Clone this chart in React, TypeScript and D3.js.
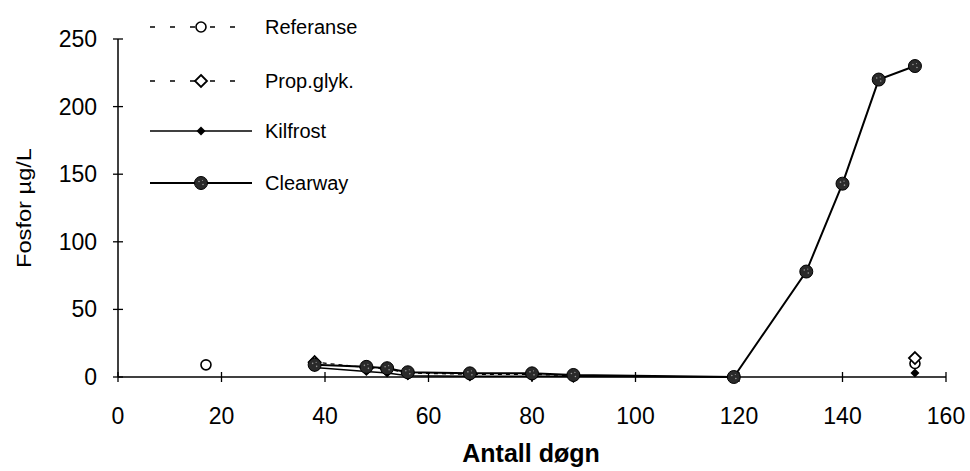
import React from "react";
import * as d3 from "d3";

const days = [17, 38, 48, 52, 56, 68, 80, 88, 119, 133, 140, 147, 154];
const referanse: (number | null)[] = [9, null, null, null, null, null, null, null, null, null, null, null, 10];
const propGlyk: (number | null)[] = [null, 11, 7, 6, 3, 2, 2, 1, null, null, null, null, 14];
const kilfrost: (number | null)[] = [null, 7, 4, 3, 1, 0.5, 0.5, 0.5, 0, null, null, null, 3];
const clearway: (number | null)[] = [null, 9, 7.5, 6.5, 3.5, 2.7, 2.7, 1.5, 0, 78, 143, 220, 230];

const xTicks = [0, 20, 40, 60, 80, 100, 120, 140, 160];
const yTicks = [0, 50, 100, 150, 200, 250];
const seriesNames = ["Referanse", "Prop.glyk.", "Kilfrost", "Clearway"];

const W = 970;
const H = 471;
const FONT = "'Liberation Sans', Arial, Helvetica, sans-serif";

type Marker = "openCircle" | "openDiamond" | "filledDiamond" | "filledCircle";

function MarkerShape({ kind, x, y }: { kind: Marker; x: number; y: number }) {
  if (kind === "openCircle")
    return <circle cx={x} cy={y} r={5} fill="#fff" stroke="#000" strokeWidth={1.6} />;
  if (kind === "openDiamond") {
    const s = 6;
    return (
      <path
        d={`M${x},${y - s}L${x + s},${y}L${x},${y + s}L${x - s},${y}Z`}
        fill="#fff"
        stroke="#000"
        strokeWidth={1.8}
      />
    );
  }
  if (kind === "filledDiamond") {
    const s = 4.5;
    return <path d={`M${x},${y - s}L${x + s},${y}L${x},${y + s}L${x - s},${y}Z`} fill="#000" />;
  }
  return (
    <g>
      <circle cx={x} cy={y} r={6.5} fill="#2a2a2a" stroke="#000" strokeWidth={1} />
      <circle cx={x - 2} cy={y - 1.5} r={0.8} fill="#999" />
      <circle cx={x + 2} cy={y + 1.5} r={0.8} fill="#999" />
      <circle cx={x + 1.5} cy={y - 2.5} r={0.6} fill="#999" />
    </g>
  );
}

export default function App() {
  const x = d3.scaleLinear().domain([0, 160]).range([118, 946]);
  const y = d3.scaleLinear().domain([0, 250]).range([377, 39]);

  const series: { vals: (number | null)[]; marker: Marker; dash?: string; width: number }[] = [
    { vals: referanse, marker: "openCircle", dash: "4,4", width: 1.3 },
    { vals: propGlyk, marker: "openDiamond", dash: "4,4", width: 1.3 },
    { vals: kilfrost, marker: "filledDiamond", width: 1.5 },
    { vals: clearway, marker: "filledCircle", width: 2 },
  ];

  const line = d3
    .line<[number, number | null]>()
    .defined((d) => d[1] !== null)
    .x((d) => x(d[0]))
    .y((d) => y(d[1] as number));

  const legendY = [27, 81, 131, 183];

  return (
    <svg
      width={W}
      height={H}
      style={{ position: "absolute", left: 0, top: 0, background: "#fff" }}
      fontFamily={FONT}
    >
      <rect width={W} height={H} fill="#fff" />
      {/* axes */}
      <line x1={x(0)} x2={x(0)} y1={y(250)} y2={y(0)} stroke="#000" strokeWidth={1.5} />
      <line x1={x(0)} x2={x(160)} y1={y(0)} y2={y(0)} stroke="#000" strokeWidth={1.5} />
      {yTicks.map((t) => (
        <g key={"y" + t}>
          <line x1={x(0) - 5} x2={x(0) + 5} y1={y(t)} y2={y(t)} stroke="#000" strokeWidth={1.3} />
          <text x={97} y={y(t) + 8} textAnchor="end" fontSize={23} fill="#000">
            {t}
          </text>
        </g>
      ))}
      {xTicks.map((t) => (
        <g key={"x" + t}>
          <line x1={x(t)} x2={x(t)} y1={y(0) - 5} y2={y(0) + 5} stroke="#000" strokeWidth={1.3} />
          <text x={x(t)} y={424} textAnchor="middle" fontSize={23} fill="#000">
            {t}
          </text>
        </g>
      ))}
      <text
        x={531}
        y={462}
        textAnchor="middle"
        fontSize={25}
        fontWeight="bold"
        fill="#000"
      >
        Antall døgn
      </text>
      <text
        transform={`translate(31,208) rotate(-90)`}
        textAnchor="middle"
        fontSize={20}
        textLength={120}
        lengthAdjust="spacingAndGlyphs"
        fill="#000"
      >
        Fosfor µg/L
      </text>

      {/* series */}
      {series.map((s, i) => {
        const pts = days.map((d, j) => [d, s.vals[j]] as [number, number | null]);
        return (
          <g key={"s" + i}>
            <path
              d={line(pts) || ""}
              fill="none"
              stroke="#000"
              strokeWidth={s.width}
              strokeDasharray={s.dash}
            />
            {pts
              .filter((p) => p[1] !== null)
              .map((p, k) => (
                <MarkerShape key={k} kind={s.marker} x={x(p[0])} y={y(p[1] as number)} />
              ))}
          </g>
        );
      })}

      {/* legend */}
      {seriesNames.map((name, i) => {
        const s = series[i];
        const ly = legendY[i];
        return (
          <g key={"l" + i}>
            {s.dash ? (
              <line x1={150} x2={240} y1={ly} y2={ly} stroke="#000" strokeWidth={1.5} strokeDasharray="5,15" />
            ) : (
              <line x1={150} x2={252} y1={ly} y2={ly} stroke="#000" strokeWidth={s.width} />
            )}
            <MarkerShape kind={s.marker} x={201} y={ly} />
            <text x={265} y={ly + 7} fontSize={20} fill="#000">
              {name}
            </text>
          </g>
        );
      })}
    </svg>
  );
}
